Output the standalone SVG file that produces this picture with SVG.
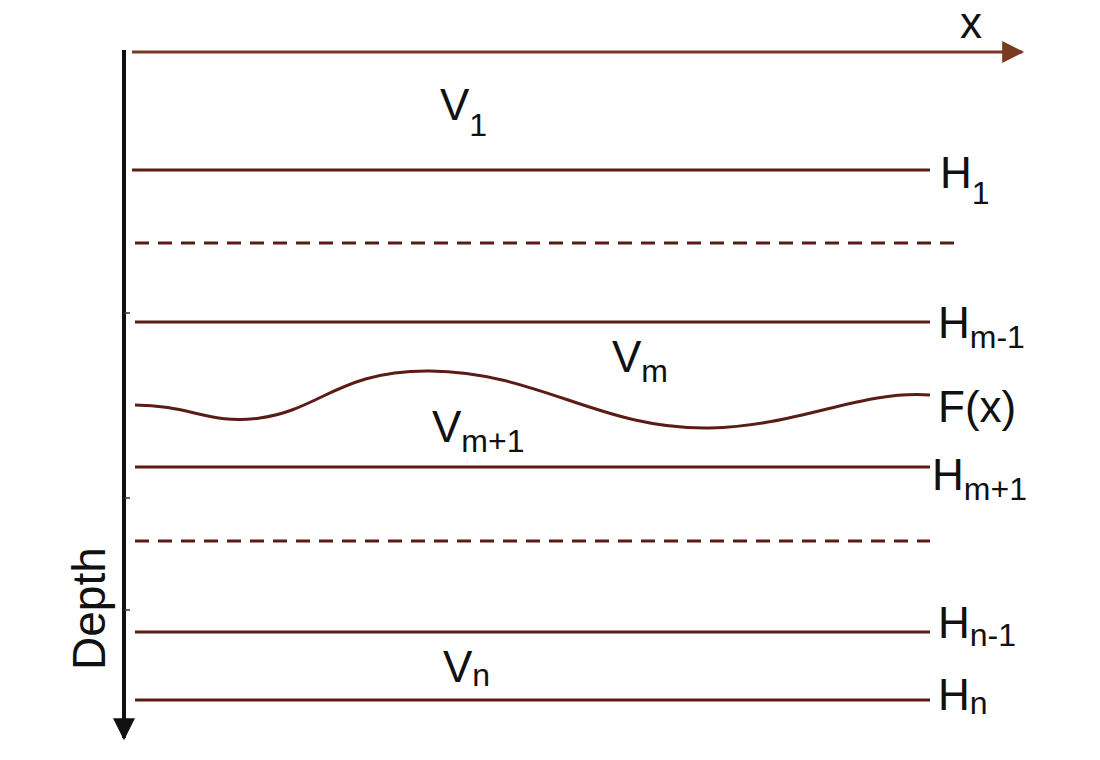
<svg xmlns="http://www.w3.org/2000/svg" width="1100" height="760" viewBox="0 0 1100 760">
<style>
.h{stroke:#5a1c16;stroke-width:3;fill:none}
.d{stroke:#5a1c16;stroke-width:3;stroke-dasharray:14,9;fill:none}
.t{font-family:"Liberation Sans",Arial,sans-serif;font-size:44px;fill:#111}
.s{font-size:32px}
</style>
<defs>
<marker id="ar" viewBox="0 0 10 10" refX="9" refY="5" markerWidth="26" markerHeight="22" orient="auto" markerUnits="userSpaceOnUse"><path d="M0,0L10,5L0,10z" fill="#7a3a22"/></marker>
<marker id="ad" viewBox="0 0 10 10" refX="9" refY="5" markerWidth="22" markerHeight="26" orient="auto" markerUnits="userSpaceOnUse"><path d="M0,0L10,5L0,10z" fill="#111"/></marker>
</defs>
<g id="connectors">
<line x1="132" y1="52" x2="1022" y2="52" stroke="#7a3a22" stroke-width="3" marker-end="url(#ar)"/>
<line x1="124" y1="50" x2="124" y2="738" stroke="#111" stroke-width="4" marker-end="url(#ad)"/>
<g stroke="#333" stroke-width="1.5"><line x1="124" y1="313" x2="130" y2="313"/><line x1="124" y1="498" x2="130" y2="498"/><line x1="124" y1="610" x2="130" y2="610"/></g>
</g>
<g id="H1"><line class="h" x1="132" y1="170" x2="930" y2="170"/><text class="t" x="940" y="188">H<tspan class="s" dy="16">1</tspan></text></g>
<g id="dash1"><line class="d" x1="135" y1="243" x2="958" y2="243"/></g>
<g id="Hm-1"><line class="h" x1="135" y1="322" x2="930" y2="322"/><text class="t" x="938" y="338">H<tspan class="s" dy="10">m-1</tspan></text></g>
<g id="Fx"><path class="h" d="M135,405 C190,405 210,425 260,418 C320,410 340,370 430,371 C540,372 600,430 710,428 C800,426 860,390 930,395"/><text class="t" x="938" y="422">F(x)</text></g>
<g id="Hm+1"><line class="h" x1="135" y1="467" x2="930" y2="467"/><text class="t" x="932" y="490">H<tspan class="s" dy="10">m+1</tspan></text></g>
<g id="dash2"><line class="d" x1="135" y1="541" x2="930" y2="541"/></g>
<g id="Hn-1"><line class="h" x1="135" y1="632" x2="930" y2="632"/><text class="t" x="938" y="638">H<tspan class="s" dy="8">n-1</tspan></text></g>
<g id="Hn"><line class="h" x1="135" y1="700" x2="930" y2="700"/><text class="t" x="938" y="710">H<tspan class="s" dy="4">n</tspan></text></g>
<text class="t" x="440" y="120">V<tspan class="s" dy="16">1</tspan></text>
<text class="t" x="612" y="372">V<tspan class="s" dy="10">m</tspan></text>
<text class="t" x="432" y="442">V<tspan class="s" dy="10">m+1</tspan></text>
<text class="t" x="443" y="682">V<tspan class="s" dy="4">n</tspan></text>
<text class="t" x="960" y="38">x</text>
<text class="t" style="font-size:46px" transform="translate(105,670) rotate(-90)">Depth</text>
</svg>
